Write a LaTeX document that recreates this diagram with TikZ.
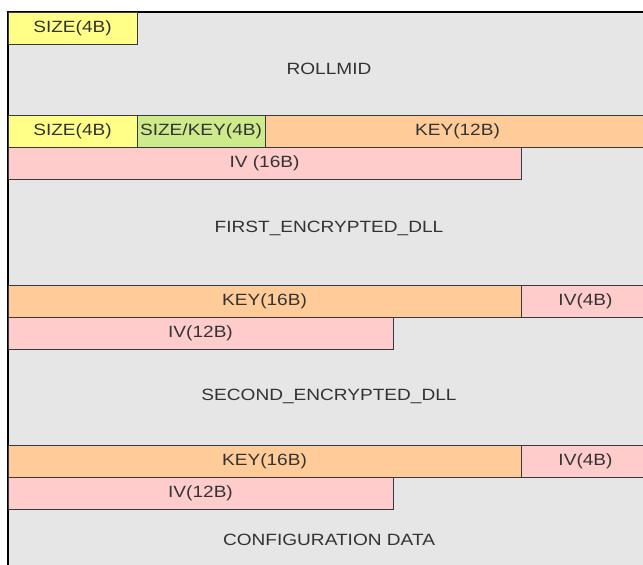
\documentclass[tikz,border=0pt]{standalone}
\usepackage{fontspec}
\usepackage{tikz}
\usetikzlibrary{positioning}
\newfontfamily\fieldfont{Liberation Sans}[FakeStretch=1.17]
\definecolor{bggrey}{HTML}{E6E6E6}
\definecolor{boxline}{HTML}{36393D}
\definecolor{txtgrey}{HTML}{333333}
\definecolor{sizeyellow}{HTML}{FFFF88}
\definecolor{mixgreen}{HTML}{CDEB8B}
\definecolor{keyorange}{HTML}{FFCC99}
\definecolor{ivpink}{HTML}{FFCCCC}

\tikzset{
  field/.style={draw=boxline, line width=1pt, minimum height=32pt, inner sep=0pt,
    outer sep=0pt, anchor=north west, text=txtgrey,
    font=\fieldfont\fontsize{16.3}{19}\selectfont},
  sizef/.style={field, fill=sizeyellow},
  mixf/.style={field, fill=mixgreen},
  keyf/.style={field, fill=keyorange},
  ivf/.style={field, fill=ivpink},
  blocklbl/.style={text=txtgrey, inner sep=0pt,
    font=\fieldfont\fontsize{16.3}{19}\selectfont}
}

\begin{document}
\begin{tikzpicture}[x=1pt,y=-1pt]
  \useasboundingbox (0,0) rectangle (643,565);
  \clip (0,0) rectangle (643,565);
  % file body
  \fill[bggrey] (8,12) rectangle (650,580);
  \draw[black, line width=1.3pt] (8,580) -- (8,12) -- (650,12);

  % header
  \node[sizef, minimum width=129pt] (size1) at (8,12) {SIZE(4B)};
  \node[blocklbl] (rollmid) at (329,69) {ROLLMID};

  % first dll
  \node[sizef, minimum width=129pt] (size2) at (8,115) {SIZE(4B)};
  \node[mixf, minimum width=128pt] (sizekey) at (size2.north east) {SIZE/KEY(4B)};
  \node[keyf, minimum width=385pt] (key12) at (sizekey.north east) {KEY(12B)};
  \node[ivf, minimum width=513pt] (iv16) at (size2.south west) {IV (16B)};
  \node[blocklbl] (firstdll) at (329,228) {FIRST\_ENCRYPTED\_DLL};

  % second dll
  \node[keyf, minimum width=513pt] (key16a) at (8,285) {KEY(16B)};
  \node[ivf, minimum width=129pt] (iv4a) at (key16a.north east) {IV(4B)};
  \node[ivf, minimum width=385pt] (iv12a) at (key16a.south west) {IV(12B)};
  \node[blocklbl] (seconddll) at (329,396) {SECOND\_ENCRYPTED\_DLL};

  % config
  \node[keyf, minimum width=513pt] (key16b) at (8,445) {KEY(16B)};
  \node[ivf, minimum width=129pt] (iv4b) at (key16b.north east) {IV(4B)};
  \node[ivf, minimum width=385pt] (iv12b) at (key16b.south west) {IV(12B)};
  \node[blocklbl] (config) at (329,540) {CONFIGURATION DATA};
\end{tikzpicture}
\end{document}
